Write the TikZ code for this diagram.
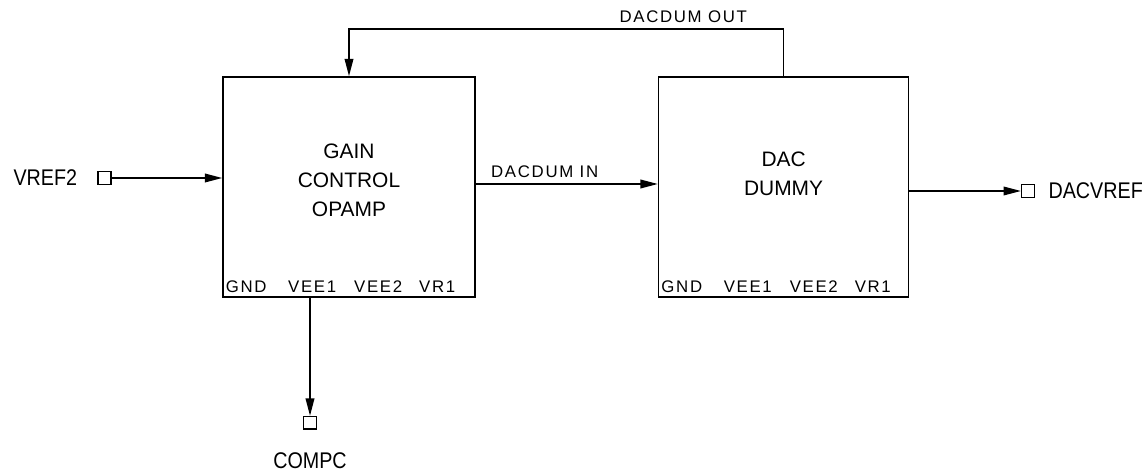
\documentclass[tikz,border=0pt]{standalone}
\usepackage{fontspec}
\setmainfont{Liberation Sans}
\newfontfamily\termfont{Liberation Sans}[FakeStretch=0.87]
\newfontfamily\spacedfont{Liberation Sans}[LetterSpace=10]
\usetikzlibrary{arrows.meta,positioning}

\begin{document}
\begin{tikzpicture}[
  block/.style={draw, line width=1.2pt, minimum width=189pt, minimum height=165pt, inner sep=0pt},
  title/.style={align=center, inner sep=0pt, font=\fontsize{15.7}{22}\selectfont},
  pinlbl/.style={inner sep=0pt, font=\spacedfont\fontsize{12.6}{14}\selectfont},
  sig/.style={inner sep=0pt, font=\spacedfont\fontsize{12.6}{14}\selectfont},
  term/.style={draw, line width=1.1pt, minimum size=9.5pt, inner sep=0pt},
  termlbl/.style={inner sep=0pt, font=\termfont\fontsize{17}{20}\selectfont},
  flow/.style={-{Triangle[length=13pt, width=6.5pt]}, line width=1.1pt}
]
  \useasboundingbox (0,0) rectangle (860.25pt,353.25pt);

  \node[block] (opamp) at (261.75pt,213pt) {};
  \node[block, minimum width=187.5pt, right=136.5pt of opamp] (dummy) {};
  \node[title] (opampname) at ([yshift=5pt]opamp.center) {GAIN\\CONTROL\\OPAMP};
  \node[title] (dummyname) at ([yshift=10pt]dummy.center) {DAC\\DUMMY};

  % pin names along the bottom of both blocks
  \foreach \b in {opamp,dummy}{
    \foreach \p/\dx in {GND/18,VEE1/67.5,VEE2/117,VR1/161.25}
      \node[pinlbl] (\b-\p) at ([shift={(\dx pt,8.5pt)}]\b.south west) {\p};
  }

  \node[term, left=83pt of {[yshift=6.75pt]opamp.west}] (vref2) {};
  \node[termlbl, left=15pt of vref2] (vref2lbl) {VREF2};
  \node[term, right=83.6pt of {[yshift=-3pt]dummy.east}] (dacvref) {};
  \node[termlbl, right=10pt of dacvref] (dacvreflbl) {DACVREF};
  \node[term, below=88.5pt of {[xshift=-29.25pt]opamp.south}] (compc) {};
  \node[termlbl, below=16.5pt of compc] (compclbl) {COMPC};

  \draw[flow] (vref2) -- (vref2 -| opamp.west);
  \draw[flow] ([yshift=2.25pt]opamp.east) -- ([yshift=2.25pt]dummy.west)
    node[sig, pos=0, above right=4.5pt and 11pt] (inlbl) {DACDUM IN};
  \draw[flow] (dummy.north) -- ++(0,35.25pt)
    node[sig, above left=4pt and 27pt] (outlbl) {DACDUM OUT} -| (opamp.north);
  \draw[flow] (dummy.east |- dacvref) -- (dacvref);
  \draw[flow] (compc |- opamp.south) -- (compc);
\end{tikzpicture}
\end{document}
